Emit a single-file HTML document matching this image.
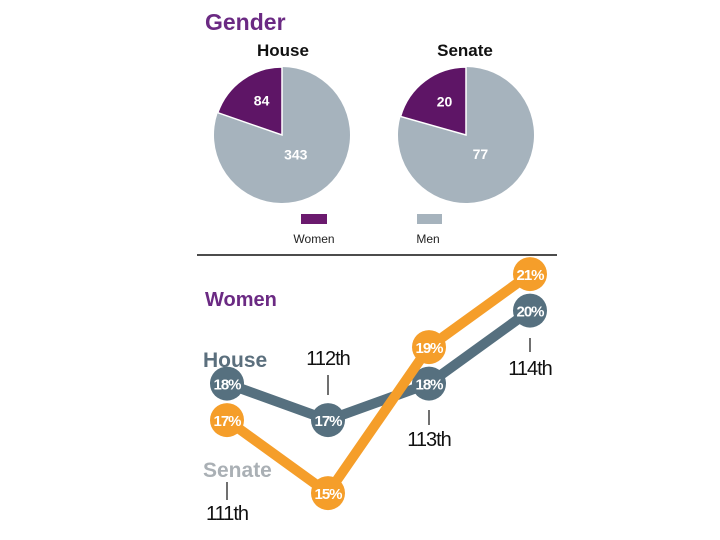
<!DOCTYPE html>
<html><head><meta charset="utf-8"><style>
body{margin:0;background:#fff;width:720px;height:540px;overflow:hidden}
svg{display:block;font-family:"Liberation Sans",sans-serif}
</style></head><body>
<svg id="c" width="720" height="540">
<text x="205" y="30" font-size="23" font-weight="bold" fill="#6b2a83">Gender</text>
<text x="283" y="56" font-size="17" font-weight="bold" text-anchor="middle" fill="#111">House</text>
<text x="465" y="56" font-size="17" font-weight="bold" text-anchor="middle" fill="#111">Senate</text>
<g id="pies"></g>
<rect x="301" y="214" width="26" height="10" fill="#6b1a6e"/>
<text x="314" y="243" font-size="12" text-anchor="middle" fill="#222">Women</text>
<rect x="417" y="214" width="25" height="10" fill="#a6b3bd"/>
<text x="428" y="243" font-size="12" text-anchor="middle" fill="#222">Men</text>
<line x1="197" y1="255" x2="557" y2="255" stroke="#111" stroke-width="1.5"/>
<text x="205" y="306" font-size="20" font-weight="bold" fill="#6b2a83">Women</text>
<text x="203" y="367" font-size="21" font-weight="bold" fill="#5b6f7d">House</text>
<text x="203" y="477" font-size="21" font-weight="bold" fill="#aab0b5">Senate</text>
<g id="ticks"></g>
<g id="lines"></g>
</svg>
<script>
const pieNames=["house","senate"];
const womenCounts=[84,20];
const menCounts=[343,77];
const congresses=["111th","112th","113th","114th"];
const houseValues=[18,17,18,20];
const senateValues=[17,15,19,21];
const NS="http://www.w3.org/2000/svg";
function mk(t,a,p){const e=document.createElementNS(NS,t);for(const k in a)e.setAttribute(k,a[k]);p.appendChild(e);return e;}
const pieCx=[282,466],pieCy=135,pieR=68;
const pies=document.getElementById('pies');
pieNames.forEach((n,i)=>{
  const cx=pieCx[i],tot=womenCounts[i]+menCounts[i];
  const ang=womenCounts[i]/tot*2*Math.PI;
  const ex=cx-pieR*Math.sin(ang),ey=pieCy-pieR*Math.cos(ang);
  const m=mk('path',{d:`M${cx},${pieCy} L${cx},${pieCy-pieR} A${pieR},${pieR} 0 ${ang<Math.PI?1:0} 1 ${ex},${ey} Z`,fill:'#a6b3bd'},pies);
  
  
  const w=mk('path',{d:`M${cx},${pieCy} L${cx},${pieCy-pieR} A${pieR},${pieR} 0 ${ang<Math.PI?0:1} 0 ${ex},${ey} Z`,fill:'#5e1566',stroke:'#fff','stroke-width':1.5},pies);
  
  
  const wa=ang/2,ma=ang+(2*Math.PI-ang)/2;
  const t1=mk('text',{x:cx-pieR*0.62*Math.sin(wa)+4,y:pieCy-pieR*0.62*Math.cos(wa)+5,'font-size':14,'font-weight':'bold',fill:'#fff','text-anchor':'middle'},pies);
  t1.textContent=womenCounts[i];
  
  
  const t2=mk('text',{x:cx-pieR*0.35*Math.sin(ma),y:pieCy-pieR*0.35*Math.cos(ma)+5,'font-size':14,'font-weight':'bold',fill:'#fff','text-anchor':'middle'},pies);
  t2.textContent=menCounts[i];
  
  
});
const xs=i=>227+i*101;
const ys=v=>379-(v-18.125)*36.5;
const ticks=document.getElementById('ticks');
const tickInfo=[[482,500,520],[375,395,365],[410,425,446],[338,352,375]];
congresses.forEach((c,i)=>{
  const [a,b,ty]=tickInfo[i];
  const l=mk('line',{x1:xs(i),x2:xs(i),y1:a,y2:b,stroke:'#111','stroke-width':1.2},ticks);
  
  
  const t=mk('text',{x:xs(i),y:ty,'font-size':20,'text-anchor':'middle',fill:'#111','letter-spacing':'-1'},ticks);
  t.textContent=c;
  
  
});
const lines=document.getElementById('lines');
function series(vals,col,name){
  const p=mk('polyline',{points:vals.map((v,i)=>xs(i)+','+ys(v)).join(' '),fill:'none',stroke:col,'stroke-width':10,'stroke-linejoin':'round'},lines);
  
  
  vals.forEach((v,i)=>{
    const c=mk('circle',{cx:xs(i),cy:ys(v),r:17,fill:col},lines);
    
    
    const t=mk('text',{x:xs(i),y:ys(v)+6,'font-size':15,'font-weight':'bold',fill:'#fff','text-anchor':'middle','letter-spacing':'-1'},lines);
    t.textContent=v+'%';
    
    
  });
}
series(houseValues,'#56707f','house');
series(senateValues,'#f59e2a','senate');
</script>
</body></html>
